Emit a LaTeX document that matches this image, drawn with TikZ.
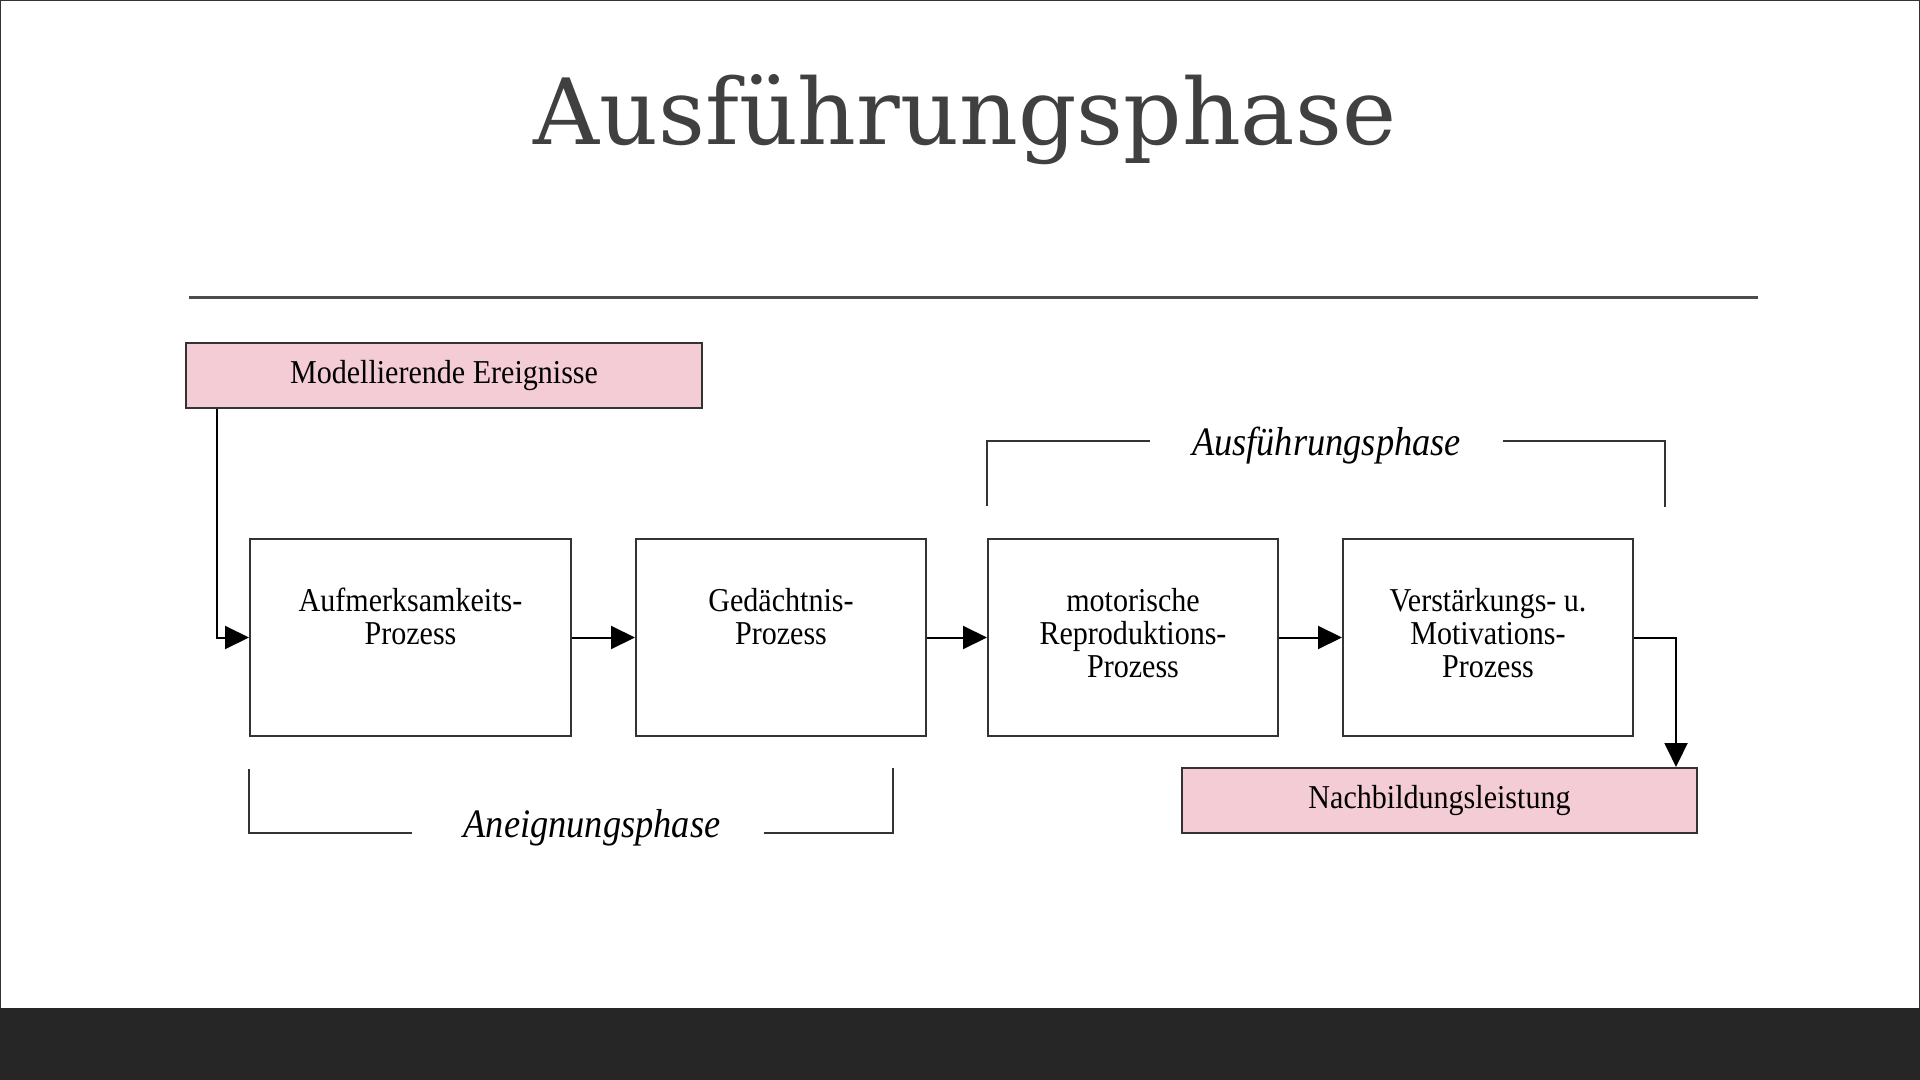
\documentclass[tikz,border=0pt]{standalone}
\usepackage{fontspec}
\setmainfont{Liberation Serif}
\newfontfamily\titlefont{DejaVu Serif}
\newfontfamily\boxfont[FakeStretch=0.9]{Liberation Serif}
\usetikzlibrary{positioning, arrows.meta}
\definecolor{eventpink}{RGB}{244,204,214}
\definecolor{slidedark}{RGB}{38,38,38}
\definecolor{titlegray}{RGB}{64,64,64}
\definecolor{linegray}{RGB}{51,51,51}
\tikzstyle{event} = [
    rectangle,
    minimum width=5.16cm,
    minimum height=0.65cm,
    draw=linegray,
    fill=eventpink,
    line width=0.02cm,
    font=\boxfont\fontsize{9.5pt}{9.4pt}\selectfont
]
\tikzstyle{process} = [
    rectangle,
    minimum width=2.9cm,
    minimum height=1.97cm,
    text depth=0.1cm,
    align=center,
    draw=linegray,
    line width=0.02cm,
    font=\boxfont\fontsize{9.5pt}{9.4pt}\selectfont
]
\tikzstyle{phase} = [
    inner sep=0pt,
    font=\boxfont\itshape\fontsize{11.5pt}{12pt}\selectfont
]
\tikzstyle{bracket} = [line width=0.02cm, draw=linegray]
\tikzstyle{arrow} = [line width=0.02cm, -{Triangle[length=0.24cm,width=0.23cm]}]

\begin{document}
\begin{tikzpicture}[node distance=0.63cm]
\useasboundingbox (0,0) rectangle (19.2,-10.8);
\fill [slidedark] (0,-10.08) rectangle (19.2,-10.8);
\draw [linegray, line width=0.03cm] (0,-10.08) -- (0,0) -- (19.2,0) -- (19.2,-10.08);

\node (title) [anchor=base, text=titlegray, font=\titlefont\fontsize{26pt}{30pt}\selectfont]
at (9.65,-1.445) {Ausführungsphase};
\coordinate (ruleL) at (1.89,-2.98);
\coordinate (ruleR) at (17.58,-2.98);
\draw [black!70, line width=0.03cm] (ruleL) -- (ruleR);

\node (ereig) [event] at (4.44,-3.755) {Modellierende Ereignisse};

\node (aufm) [process, minimum width=3.21cm] at (4.105,-6.375)
{Aufmerksamkeits-\\Prozess\\\mbox{}};

\node (gedae) [process, right=of aufm]
{Gedächtnis-\\Prozess\\\mbox{}};

\node (motor) [process, right=0.60cm of gedae]
{motorische\\Reproduktions-\\Prozess};

\node (verst) [process, right=of motor]
{Verstärkungs- u.\\Motivations-\\Prozess};

\node (nachb) [event, minimum width=5.15cm] at (14.395,-8.005) {Nachbildungsleistung};

\node (ausf) [phase, minimum width=3.51cm, text height=0.38cm, text depth=0.09cm]
at (13.265,-4.41) {Ausführungsphase};
\node (aneig) [phase, minimum width=3.50cm, text height=0.28cm, text depth=0.19cm]
at (5.88,-8.33) {\hspace{0.08cm}Aneignungsphase};

\coordinate (ausfL) at ([yshift=0.32cm]motor.north west);
\coordinate (ausfR) at (16.65,-5.07);
\coordinate (aneigL) at ([yshift=-0.32cm]aufm.south west);
\coordinate (aneigR) at (8.93,-7.68);

\draw [bracket] (ausfL) |- (ausf.west);
\draw [bracket] (ausf.east) -| (ausfR);
\draw [bracket] (aneigL) |- (aneig.west);
\draw [bracket] (aneig.east) -| (aneigR);

\draw [arrow] ([xshift=0.32cm]ereig.south west) |- (aufm.west);
\draw [arrow] (aufm) -- (gedae);
\draw [arrow] (gedae) -- (motor);
\draw [arrow] (motor) -- (verst);
\draw [arrow] (verst.east) -| ([xshift=-0.22cm]nachb.north east);

\end{tikzpicture}
\end{document}
